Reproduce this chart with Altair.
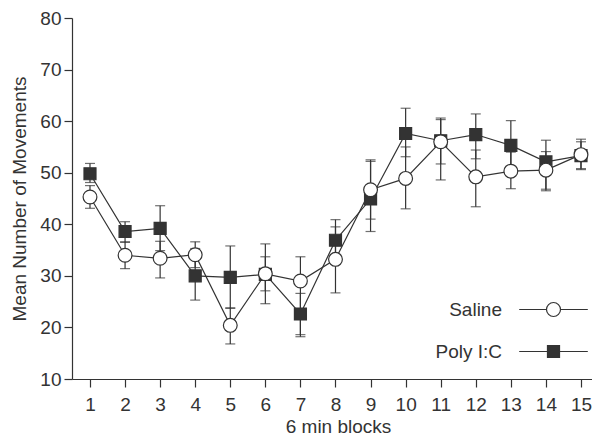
import altair as alt
import pandas as pd

# ---- data ----
blocks = list(range(1, 16))
series_names = ["Saline", "Poly I:C"]

saline_mean = [45.3, 34.0, 33.4, 34.1, 20.4, 30.4, 29.0, 33.2, 46.7, 48.9, 56.0, 49.2, 50.3, 50.5, 53.5]
saline_lo = [43.1, 31.4, 29.6, 31.6, 16.8, 24.6, 18.6, 26.7, 41.0, 43.0, 51.7, 43.4, 46.9, 46.8, 50.6]
saline_hi = [47.5, 36.6, 36.7, 36.6, 23.8, 36.2, 33.7, 39.5, 52.5, 55.0, 60.3, 54.4, 54.0, 54.1, 56.5]

poly_mean = [49.8, 38.6, 39.2, 30.0, 29.7, 30.3, 22.6, 36.9, 44.9, 57.6, 56.2, 57.4, 55.3, 52.1, 53.3]
poly_lo = [48.1, 36.5, 34.9, 25.3, 23.7, 27.1, 18.2, 32.9, 38.6, 53.1, 48.6, 52.7, 50.5, 46.5, 50.8]
poly_hi = [51.8, 40.5, 43.6, 35.3, 35.8, 33.7, 26.6, 40.9, 52.2, 62.5, 60.6, 61.4, 60.1, 56.3, 56.0]

y_ticks = [10, 20, 30, 40, 50, 60, 70, 80]

rows = []
for name, means, los, his in [
    (series_names[0], saline_mean, saline_lo, saline_hi),
    (series_names[1], poly_mean, poly_lo, poly_hi),
]:
    for b, m, lo, hi in zip(blocks, means, los, his):
        rows.append({"block": b, "series": name, "mean": m, "lo": lo, "hi": hi})
df = pd.DataFrame(rows)
legend_df = pd.DataFrame({"series": series_names})

INK = "#333333"
FONT = "Liberation Sans"
SW = 1.2

# legend symbols: line with marker in the middle
SAL_PATH = "M-4.9,0H-1M1,0H4.9M1,0A1,1,0,1,1,-1,0A1,1,0,1,1,1,0Z"
POLY_PATH = "M-4.9,0H4.9M-0.86,-0.86H0.86V0.86H-0.86Z"

x_enc = alt.X(
    "block:Q",
    scale=alt.Scale(domain=[0.487, 15.314], nice=False, zero=False),
    axis=alt.Axis(values=blocks, title="6 min blocks", format="d", titleX=266),
)


def y_enc(field):
    return alt.Y(
        f"{field}:Q",
        scale=alt.Scale(domain=[10, 80], nice=False, zero=False),
        axis=alt.Axis(values=y_ticks, title="Mean Number of Movements"),
    )


base = alt.Chart(df)

err = base.mark_rule(color=INK, strokeWidth=SW).encode(
    x=x_enc, y=y_enc("lo"), y2="hi:Q", detail="series:N"
)
cap_lo = base.mark_tick(orient="horizontal", size=10, thickness=SW, color=INK).encode(
    x=x_enc, y=y_enc("lo")
)
cap_hi = base.mark_tick(orient="horizontal", size=10, thickness=SW, color=INK).encode(
    x=x_enc, y=y_enc("hi")
)
lines = base.mark_line(color=INK, strokeWidth=SW).encode(
    x=x_enc, y=y_enc("mean"), detail="series:N", order="block:Q"
)
squares = base.transform_filter(alt.datum.series == series_names[1]).mark_point(
    shape="square", size=144, filled=True, fill=INK, stroke=INK, strokeWidth=SW, opacity=1
).encode(x=x_enc, y=y_enc("mean"))
circles = base.transform_filter(alt.datum.series == series_names[0]).mark_point(
    shape="circle", size=190, filled=True, fill="white", stroke=INK, strokeWidth=SW, opacity=1
).encode(x=x_enc, y=y_enc("mean"))

leg = alt.Legend(
    title=None,
    orient="none",
    legendX=472,
    legendY=282,
    direction="vertical",
    labelAlign="right",
    labelOffset={"expr": "-61"},
    labelFont=FONT,
    labelFontSize=19,
    labelColor=INK,
    symbolSize=196,
    symbolStrokeColor=INK,
    symbolStrokeWidth=SW,
    symbolOpacity=1,
    rowPadding=22,
    padding=0,
)
legend_layer = (
    alt.Chart(legend_df)
    .transform_filter("false")
    .mark_point(filled=True, opacity=1, size=196, stroke=INK, strokeWidth=SW)
    .encode(
        shape=alt.Shape("series:N", scale=alt.Scale(domain=series_names, range=[SAL_PATH, POLY_PATH]), legend=leg),
        fill=alt.Fill("series:N", scale=alt.Scale(domain=series_names, range=["white", INK]), legend=leg),
        stroke=alt.Stroke("series:N", scale=alt.Scale(domain=series_names, range=[INK, INK]), legend=leg),
    )
)

chart = (
    alt.layer(err, cap_lo, cap_hi, lines, squares, circles, legend_layer)
    .properties(
        width=520,
        height=361,
        autosize=alt.AutoSizeParams(type="none"),
        padding={"left": 64, "top": 10, "right": 0, "bottom": 57},
        background="white",
    )
    .configure_view(stroke=None)
    .configure_axis(
        grid=False,
        domainColor=INK,
        domainWidth=SW,
        tickColor=INK,
        tickWidth=SW,
        tickSize=8,
        labelFont=FONT,
        labelFontSize=19,
        labelColor=INK,
        labelFlush=False,
        labelOverlap=False,
        titleFont=FONT,
        titleFontSize=19,
        titleFontWeight="normal",
        titleColor=INK,
    )
    .configure_axisX(labelPadding=8, titlePadding=3)
    .configure_axisY(labelPadding=3, titlePadding=10)
)

chart.save("out.html", embed_options={"renderer": "svg", "actions": False})
